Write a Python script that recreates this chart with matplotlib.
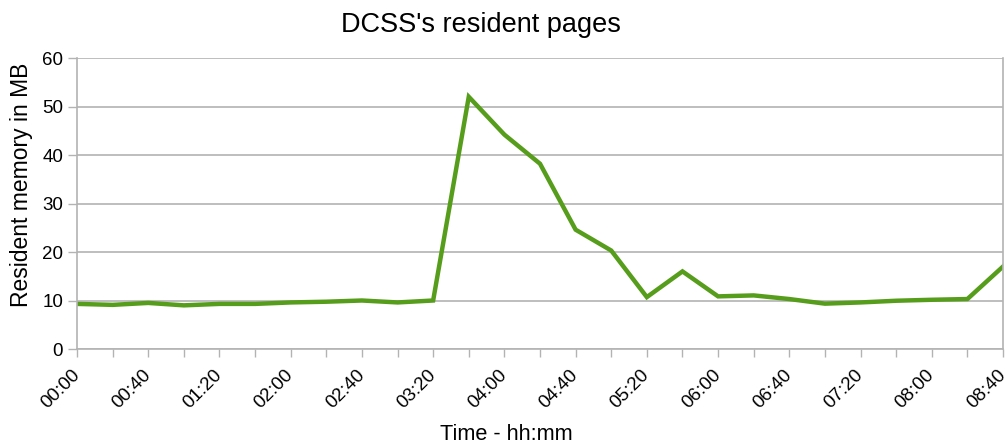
import matplotlib
matplotlib.use("Agg")
import matplotlib.pyplot as plt

times = ["00:00", "00:20", "00:40", "01:00", "01:20", "01:40", "02:00", "02:20", "02:40",
         "03:00", "03:20", "03:40", "04:00", "04:20", "04:40", "05:00", "05:20", "05:40",
         "06:00", "06:20", "06:40", "07:00", "07:20", "07:40", "08:00", "08:20", "08:40"]
resident_mb = [9.3, 9.1, 9.5, 9.0, 9.3, 9.3, 9.6, 9.75, 10.0,
               9.6, 10.0, 52.0, 44.2, 38.2, 24.6, 20.3, 10.7, 16.0,
               10.85, 11.05, 10.3, 9.35, 9.6, 9.95, 10.15, 10.3, 17.0]
yticks = [0, 10, 20, 30, 40, 50, 60]

plt.rcParams['font.family'] = ['Liberation Sans', 'DejaVu Sans']

W, H = 1007, 447
fig = plt.figure(figsize=(W / 100, H / 100), dpi=100)
ax = fig.add_axes([77 / W, 1 - 349 / H, (1003 - 77) / W, (349 - 58) / H])

x = list(range(len(times)))
ax.plot(x, resident_mb, color="#579d1c", linewidth=3.2, solid_joinstyle="miter")

ax.set_xlim(0, len(times) - 1)
ax.set_ylim(0, 60)
ax.set_yticks(yticks)
ax.set_yticklabels([str(v) for v in yticks], fontsize=13.5)
ax.set_xticks(x[::2])
ax.set_xticklabels(times[::2], rotation=45, ha="right", va="center",
                   rotation_mode="anchor", fontsize=13.5)
ax.set_xticks(x, minor=True)

ax.grid(axis="y", color="#b3b3b3", linewidth=1.2)
ax.set_axisbelow(True)
for s in ["left", "right", "bottom"]:
    ax.spines[s].set_color("#b3b3b3")
    ax.spines[s].set_linewidth(1.2)
ax.spines["top"].set_visible(False)

ax.tick_params(axis="x", which="both", length=5.8, width=1.0, color="#b3b3b3", pad=11)
ax.tick_params(axis="y", length=6.5, width=1.0, color="#b3b3b3", pad=3.5)

ax.set_ylabel("Resident memory in MB", fontsize=16.5, va="center")
ax.yaxis.set_label_coords((22 - 77) / (1003 - 77), (349 - 185) / (349 - 58))
ax.set_xlabel("Time - hh:mm", fontsize=15.7, va="center")
ax.xaxis.set_label_coords((506 - 77) / (1003 - 77), (349 - 435) / (349 - 58))
fig.text(480.5 / W, 1 - 25 / H, "DCSS's resident pages", fontsize=19.5, ha="center", va="center")

fig.savefig("out.png", dpi=100)
